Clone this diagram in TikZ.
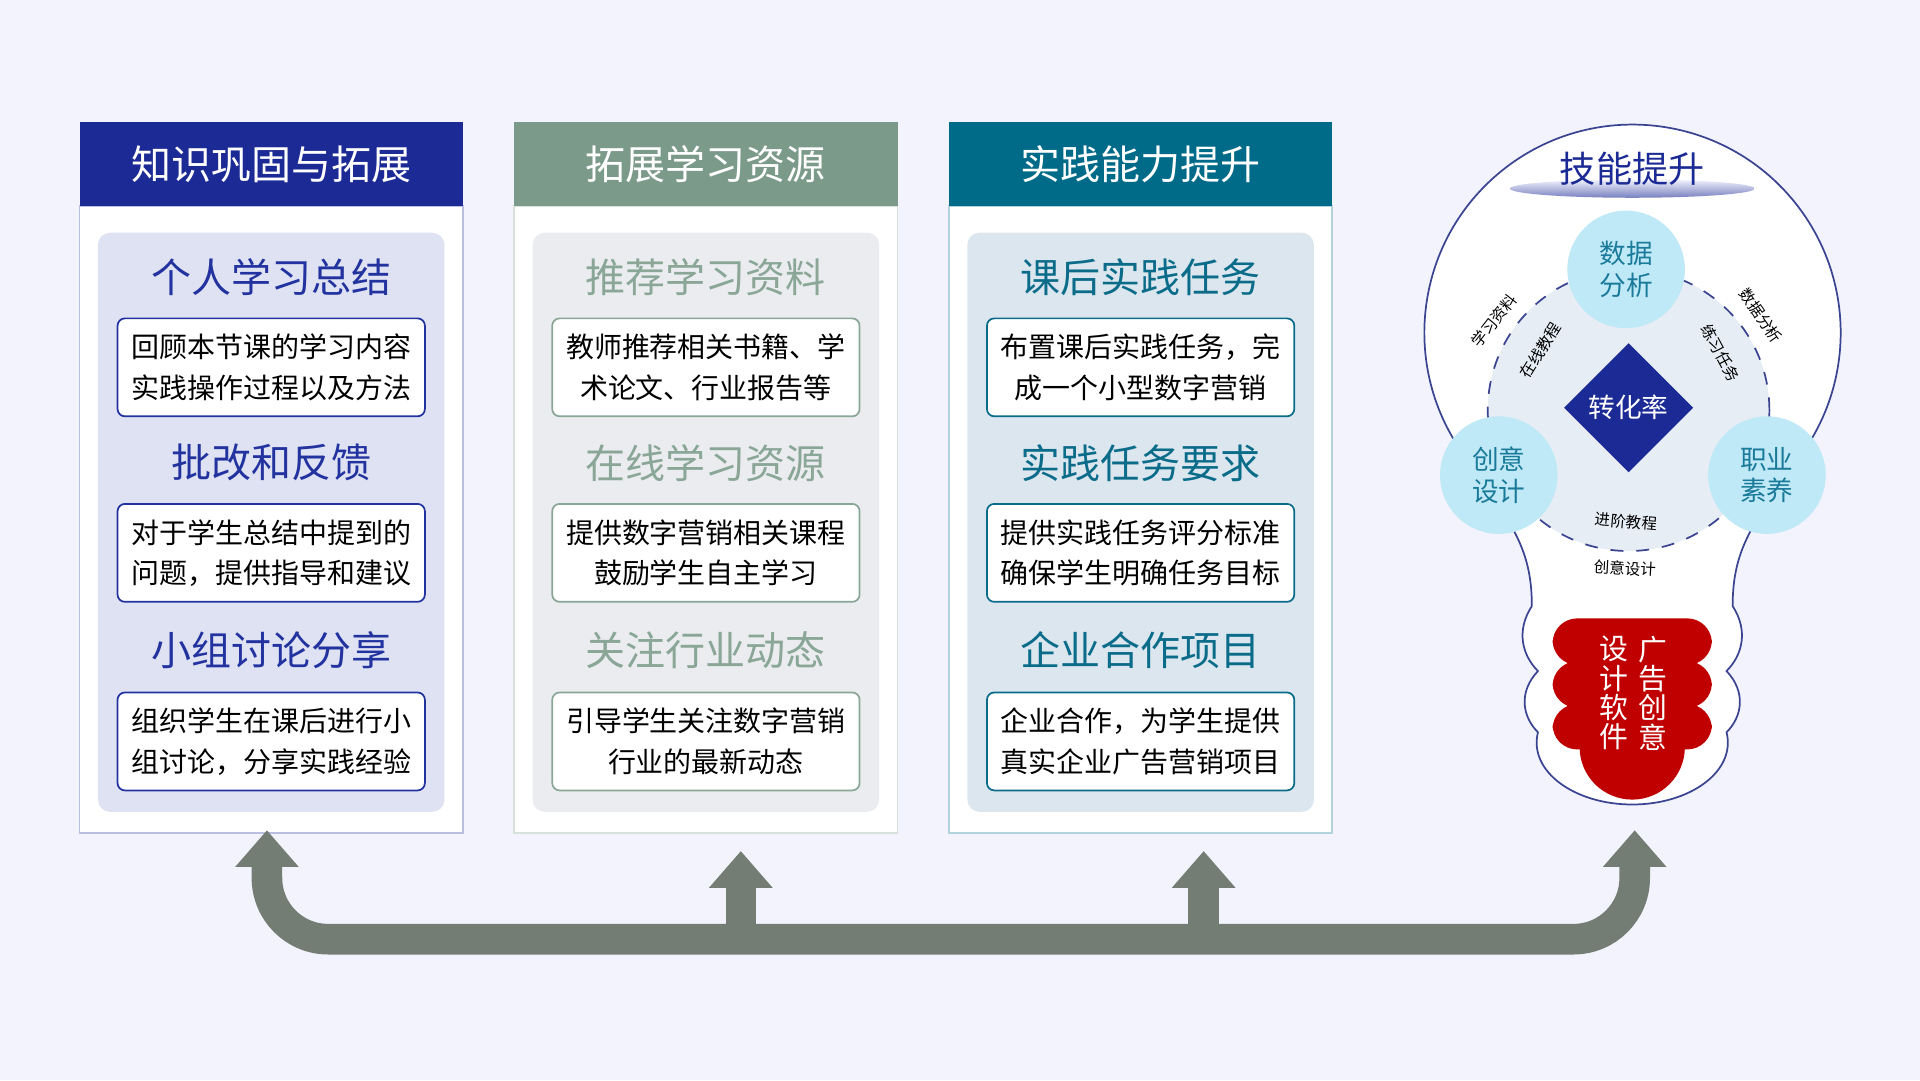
\documentclass[tikz,border=0pt]{standalone}
\usepackage{fontspec}
\setmainfont{Noto Sans CJK SC}
\usetikzlibrary{positioning, shapes.geometric, arrows.meta, backgrounds}
\definecolor{bgpale}{HTML}{F2F3FD}
\definecolor{hdrblue}{HTML}{1B2A94}
\definecolor{hdrsage}{HTML}{7B9A8A}
\definecolor{hdrteal}{HTML}{006B88}
\definecolor{panelblue}{HTML}{DFE2F3}
\definecolor{panelgray}{HTML}{EAECEF}
\definecolor{panelteal}{HTML}{DBE6EF}
\definecolor{subblue}{HTML}{2233A0}
\definecolor{subsage}{HTML}{8AA697}
\definecolor{subteal}{HTML}{0B6C8A}
\definecolor{arrowgray}{HTML}{737D73}
\definecolor{bubble}{HTML}{BFE9F7}
\definecolor{bubbletext}{HTML}{1A7A9A}
\definecolor{plugred}{HTML}{C00000}
\definecolor{bulbline}{HTML}{3A4490}
\newcommand\plugfont{\fontsize{6.7}{6.8}\selectfont\lineskiplimit=-5pt\relax}
\begin{document}
\begin{tikzpicture}[
  x=0.1mm, y=-0.1mm,
  header/.style={
    fill=#1,
    text=white,
    minimum width=31.3mm,
    minimum height=6.8mm,
    inner sep=0mm,
    font=\fontsize{9.3}{11}\selectfont
  },
  body/.style={
    fill=white,
    draw=#1!30,
    minimum width=31.3mm,
    minimum height=51.2mm
  },
  panel/.style={
    fill=#1,
    rounded corners=1mm,
    minimum width=28.3mm,
    minimum height=47.3mm
  },
  subhead/.style={
    text=#1,
    font=\fontsize{9.3}{11}\selectfont
  },
  item/.style={
    fill=white,
    draw=#1,
    rounded corners=0.6mm,
    minimum width=25.1mm,
    minimum height=8mm,
    align=center,
    inner sep=0mm,
    font=\fontsize{6.5}{9.4}\selectfont
  },
  up arrow/.style={
    draw=arrowgray,
    line width=2.5mm,
    -{Triangle[width=5mm,length=3mm]}
  },
  bubble/.style={
    circle,
    fill=bubble,
    minimum size=9.6mm,
    inner sep=0mm,
    align=center,
    text=bubbletext,
    font=\fontsize{6.2}{7.4}\selectfont
  },
  tiny/.style={
    font=\fontsize{3.6}{4}\selectfont,
    inner sep=0mm
  },
  plug text/.style={
    text=white,
    align=center,
    inner sep=0mm,
    font=\plugfont
  }
]
\fill[bgpale] (0,0) rectangle (1568,882);

% column one
\node (body1) [body=hdrblue] at (221.5,424) {};
\node (head1) [header=hdrblue] at (221.5,134) {知识巩固与拓展};
\node (panel1) [panel=panelblue] at (221.5,426.5) {};
\node (sub11) [subhead=subblue] at (221.5,226) {个人学习总结};
\node (item11) [item=subblue] at (221.5,300) {回顾本节课的学习内容\\实践操作过程以及方法};
\node (sub12) [subhead=subblue] at (221.5,378) {批改和反馈};
\node (item12) [item=subblue] at (221.5,451.5) {对于学生总结中提到的\\问题，提供指导和建议};
\node (sub13) [subhead=subblue] at (221.5,531) {小组讨论分享};
\node (item13) [item=subblue] at (221.5,605.5) {组织学生在课后进行小\\组讨论，分享实践经验};

% column two
\node (body2) [body=hdrsage] at (576.5,424) {};
\node (head2) [header=hdrsage] at (576.5,134) {拓展学习资源};
\node (panel2) [panel=panelgray] at (576.5,426.5) {};
\node (sub21) [subhead=subsage] at (576.5,226) {推荐学习资料};
\node (item21) [item=subsage] at (576.5,300) {教师推荐相关书籍、学\\术论文、行业报告等};
\node (sub22) [subhead=subsage] at (576.5,378) {在线学习资源};
\node (item22) [item=subsage] at (576.5,451.5) {提供数字营销相关课程\\鼓励学生自主学习};
\node (sub23) [subhead=subsage] at (576.5,531) {关注行业动态};
\node (item23) [item=subsage] at (576.5,605.5) {引导学生关注数字营销\\行业的最新动态};

% column three
\node (body3) [body=hdrteal] at (931.5,424) {};
\node (head3) [header=hdrteal] at (931.5,134) {实践能力提升};
\node (panel3) [panel=panelteal] at (931.5,426.5) {};
\node (sub31) [subhead=subteal] at (931.5,226) {课后实践任务};
\node (item31) [item=subteal] at (931.5,300) {布置课后实践任务，完\\成一个小型数字营销};
\node (sub32) [subhead=subteal] at (931.5,378) {实践任务要求};
\node (item32) [item=subteal] at (931.5,451.5) {提供实践任务评分标准\\确保学生明确任务目标};
\node (sub33) [subhead=subteal] at (931.5,531) {企业合作项目};
\node (item33) [item=subteal] at (931.5,605.5) {企业合作，为学生提供\\真实企业广告营销项目};

% bottom arrows
\coordinate (turnL) at (218,767);
\coordinate (turnR) at (1335,767);
\coordinate (tipL) at (218,678);
\coordinate (tipR) at (1335,678);
\coordinate (footM1) at (605,767);
\coordinate (tipM1) at (605,695);
\coordinate (footM2) at (983,767);
\coordinate (tipM2) at (983,695);
\draw[up arrow, {Triangle[width=5mm,length=3mm]}-{Triangle[width=5mm,length=3mm]},
  rounded corners=5mm] (tipL) -- (turnL) -- (turnR) -- (tipR);
\draw[up arrow] (footM1) -- (tipM1);
\draw[up arrow] (footM2) -- (tipM2);

% bulb
\draw[bulbline, fill=white, thin]
  (1203,381) arc[start angle=140, end angle=400, radius=170]
  .. controls (1430,430) and (1415,450) .. (1415,495)
  .. controls (1428,515) and (1423,535) .. (1410,548)
  .. controls (1426,565) and (1423,585) .. (1410,598)
  .. controls (1418,630) and (1380,657) .. (1333,657)
  .. controls (1286,657) and (1248,630) .. (1256,598)
  .. controls (1243,585) and (1240,565) .. (1256,548)
  .. controls (1243,535) and (1238,515) .. (1251,495)
  .. controls (1251,450) and (1236,430) .. cycle;
\node (lens) [ellipse, minimum width=20mm, minimum height=1.5mm, inner sep=0mm,
  top color=bgpale, bottom color=hdrblue!60, draw=none] at (1333,154) {};
\node (skill) [text=hdrblue, font=\fontsize{8.4}{10}\selectfont] at (1333,138) {技能提升};
\node (ring) [circle, minimum size=23mm, draw=bulbline, dashed, fill=panelteal!70] at (1330,335) {};
\node (rate) [diamond, fill=hdrblue, minimum size=10.6mm, inner sep=0mm, text=white,
  font=\fontsize{6.2}{7}\selectfont] at (1330,333) {转化率};
\node (data) [bubble] at (1328,220) {数据\\分析};
\node (idea) [bubble] at (1224,388) {创意\\设计};
\node (career) [bubble] at (1443,388) {职业\\素养};
\node (lbl1) [tiny, rotate=52] at (1220,262) {学习资料};
\node (lbl2) [tiny, rotate=58] at (1258,286) {在线教程};
\node (lbl3) [tiny, rotate=-55] at (1438,258) {数据分析};
\node (lbl4) [tiny, rotate=-62] at (1405,288) {练习任务};
\node (lbl5) [tiny, rotate=-5] at (1328,426) {进阶教程};
\node (lbl6) [tiny, rotate=-3] at (1327,464) {创意设计};

% plug
\fill[plugred, rounded corners=2mm] (1268,505) rectangle (1398,543);
\fill[plugred, rounded corners=2mm] (1268,540) rectangle (1398,578);
\fill[plugred, rounded corners=2mm] (1268,575) rectangle (1398,612);
\fill[plugred] (1290,520) rectangle (1376,610);
\fill[plugred] (1376,610) arc[start angle=0, end angle=180, radius=43];
\node (plugL) [plug text] at (1318,566) {设\\计\\软\\件};
\node (plugR) [plug text] at (1350,566) {广\\告\\创\\意};
\end{tikzpicture}
\end{document}
